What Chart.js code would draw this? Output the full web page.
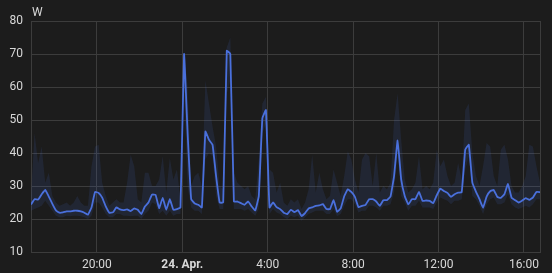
<!DOCTYPE html>
<html>
<head>
<meta charset="utf-8">
<script src="https://cdn.jsdelivr.net/npm/chart.js@4.4.1/dist/chart.umd.min.js"></script>
<style>
  html, body { margin: 0; padding: 0; background: #1c1c1c; }
  canvas { display: block; }
</style>
</head>
<body>
<canvas id="powerChart" width="552" height="273"></canvas>
<script>
// Time axis: hours relative to midnight of 24 Apr (negative = 23 Apr)
const startHour = -7 - 5 / 60;   // 16:55 on 23 Apr
const stepMinutes = 10;
const endHour = 16.75;

const tickHours = [-4, 0, 4, 8, 12, 16];
const tickLabels = ['20:00', '24. Apr.', '4:00', '8:00', '12:00', '16:00'];
const yTicks = [10, 20, 30, 40, 50, 60, 70, 80];
const unit = 'W';

// Mean power per 10 minutes
const meanW = [
  24.4, 26, 25.9, 27.5, 28.8, 26.8, 24.6, 22.6, 21.9, 22,
  22.3, 22.3, 22.5, 22.5, 22.3, 21.9, 21.3, 23.5, 28.2, 27.9,
  26.5, 23.8, 21.9, 22, 23.5, 22.9, 22.7, 22.9, 22.4, 23.2,
  22.8, 21.5, 23.8, 25, 27.4, 27.3, 23.3, 26.4, 22.8, 26,
  22.8, 23, 23.5, 70, 46, 26, 24.7, 24.3, 23.5, 46.5,
  44, 42.5, 33, 25, 25, 71, 70, 25.3, 25.3, 24.8,
  24.3, 25.3, 23.8, 22.6, 27, 50.5, 53, 23.5, 25, 23.6,
  23, 21.9, 21.5, 22.8, 22.1, 22.7, 20.9, 21.8, 23.2, 23.5,
  24, 24.1, 24.5, 23, 23, 25.7, 22.2, 23.2, 26.9, 29,
  28.2, 26.7, 23.6, 24, 24.3, 26, 26, 25.3, 24, 25.7,
  25.7, 26.8, 33, 43.8, 32, 27, 24.4, 26, 26, 28.2,
  25.5, 25.6, 25.5, 24.8, 27.2, 29.2, 28.5, 27.9, 26.7, 27.5,
  28, 28.1, 41, 42.5, 31, 28.3, 26, 23.4, 26.8, 28.4,
  28.8, 26.7, 26.4, 27.5, 30.6, 26.5, 25.7, 25, 25.6, 26.3,
  25.8, 26.5, 28.2, 28.1
];

// Min / max per 10 minutes (faint band)
const minW = [
  22.5, 23, 23.5, 24, 25.5, 24, 22.5, 21, 20.5, 20.5,
  21, 20.8, 21, 21, 20.8, 20.5, 20, 21, 25, 25,
  23.5, 21.5, 20.5, 20.5, 21.5, 21.5, 21, 21, 20.8, 21,
  21, 20, 21.5, 22.5, 25, 24.5, 21.5, 22.5, 21, 22.5,
  21, 21.5, 21.5, 60, 30, 23.5, 22.5, 22.5, 21.5, 38,
  40, 39, 27, 23, 23, 58, 62, 23, 23, 23,
  22.5, 23, 22, 21, 23, 46, 49, 21.5, 23, 22,
  21.5, 20.5, 20, 21, 20.5, 21, 19.5, 20.5, 21.5, 22,
  22.5, 22.5, 22.5, 21.5, 21.5, 23, 20.8, 21.5, 24, 26,
  26, 24.5, 22, 22.5, 22.5, 24, 24, 23.5, 22.5, 24,
  24, 24.5, 28, 40, 27, 25, 22.5, 24, 24, 25.5,
  23.5, 23.5, 23.5, 23, 25, 26.5, 26, 25.5, 24.5, 25.5,
  25.5, 26, 35, 39, 27, 26, 24, 21.5, 24.5, 26,
  26.5, 24.5, 24.5, 25, 27.5, 24.5, 23.5, 23, 23.5, 24,
  23.5, 24.5, 26, 26
];

const maxW = [
  27, 46, 37, 42, 31, 34, 27, 25, 24, 24.5,
  25, 24, 25, 27, 25, 24, 24, 36, 42, 42.5,
  31, 27, 24, 25, 26, 25, 25, 31, 39.5, 36,
  26, 25, 34, 34, 30, 30, 32, 39, 28, 38.5,
  32, 35, 26, 71, 60, 30, 33, 34, 30, 62,
  55, 48, 42, 30, 29, 72, 75, 34, 31, 30,
  29, 30, 27, 26, 38, 55, 57, 35, 34, 28,
  31, 25, 24, 26, 25, 26, 23, 25, 29, 39.5,
  28, 34, 29, 26, 27, 35, 31, 27, 33, 40.5,
  38, 32, 28, 38, 40, 39, 30, 40, 28, 30,
  29, 31, 50, 58, 44, 32, 28, 29, 31, 39,
  29, 30, 29, 31, 41, 36, 38, 33, 30, 31,
  37, 32, 53, 55, 40, 33, 30, 36, 43, 42,
  33, 30, 41, 42.5, 38, 30, 28, 28, 30, 33,
  42.5, 42, 36, 31
];

const lineColor = '#4a70dc';
const bandColor = 'rgba(74, 112, 220, 0.12)';
const gridColor = '#3c3c3c';
const textColor = '#d8d8d8';

function toPoints(values) {
  return values.map((v, i) => ({ x: startHour + i * stepMinutes / 60, y: v }));
}

function fmtTick(value) {
  const idx = tickHours.indexOf(value);
  return idx >= 0 ? tickLabels[idx] : '';
}

// Draw the unit above the y axis
const unitLabel = {
  id: 'unitLabel',
  afterDraw(chart) {
    const ctx = chart.ctx;
    ctx.save();
    ctx.font = '12px Roboto';
    ctx.fillStyle = textColor;
    ctx.textBaseline = 'alphabetic';
    ctx.textAlign = 'left';
    ctx.fillText(unit, chart.chartArea.left + 1, chart.chartArea.top - 5);
    ctx.restore();
  }
};

const ctx = document.getElementById('powerChart').getContext('2d');
new Chart(ctx, {
  type: 'line',
  data: {
    datasets: [
      {
        label: 'max',
        data: toPoints(maxW),
        borderWidth: 0,
        pointRadius: 0,
        backgroundColor: bandColor,
        fill: '+1',
        order: 2
      },
      {
        label: 'min',
        data: toPoints(minW),
        borderWidth: 0,
        pointRadius: 0,
        fill: false,
        order: 2
      },
      {
        label: 'mean',
        data: toPoints(meanW),
        borderColor: lineColor,
        borderWidth: 1.8,
        pointRadius: 0,
        tension: 0.1,
        fill: false,
        order: 1
      }
    ]
  },
  options: {
    responsive: false,
    animation: false,
    devicePixelRatio: 1,
    layout: { padding: { top: 21, right: 12, left: 0, bottom: 0 } },
    plugins: {
      legend: { display: false },
      tooltip: { enabled: false }
    },
    scales: {
      x: {
        type: 'linear',
        min: startHour,
        max: endHour,
        afterBuildTicks: scale => {
          scale.ticks = tickHours.concat([endHour]).map(v => ({ value: v }));
        },
        afterFit: scale => { scale.height = 21; },
        grid: { color: gridColor, drawTicks: false },
        border: { display: true, color: gridColor },
        ticks: {
          autoSkip: false,
          maxRotation: 0,
          padding: 6,
          color: textColor,
          font: c => ({
            family: 'Roboto',
            size: 12,
            weight: c.tick && c.tick.value === 0 ? 'bold' : 'normal'
          }),
          callback: fmtTick
        }
      },
      y: {
        min: yTicks[0],
        max: yTicks[yTicks.length - 1],
        afterBuildTicks: scale => {
          scale.ticks = yTicks.map(v => ({ value: v }));
        },
        afterFit: scale => { scale.width = 31; },
        grid: { color: gridColor, drawTicks: false },
        border: { display: true, color: gridColor },
        ticks: {
          padding: 8,
          color: textColor,
          font: { family: 'Roboto', size: 12 }
        }
      }
    }
  },
  plugins: [unitLabel]
});
</script>
</body>
</html>
